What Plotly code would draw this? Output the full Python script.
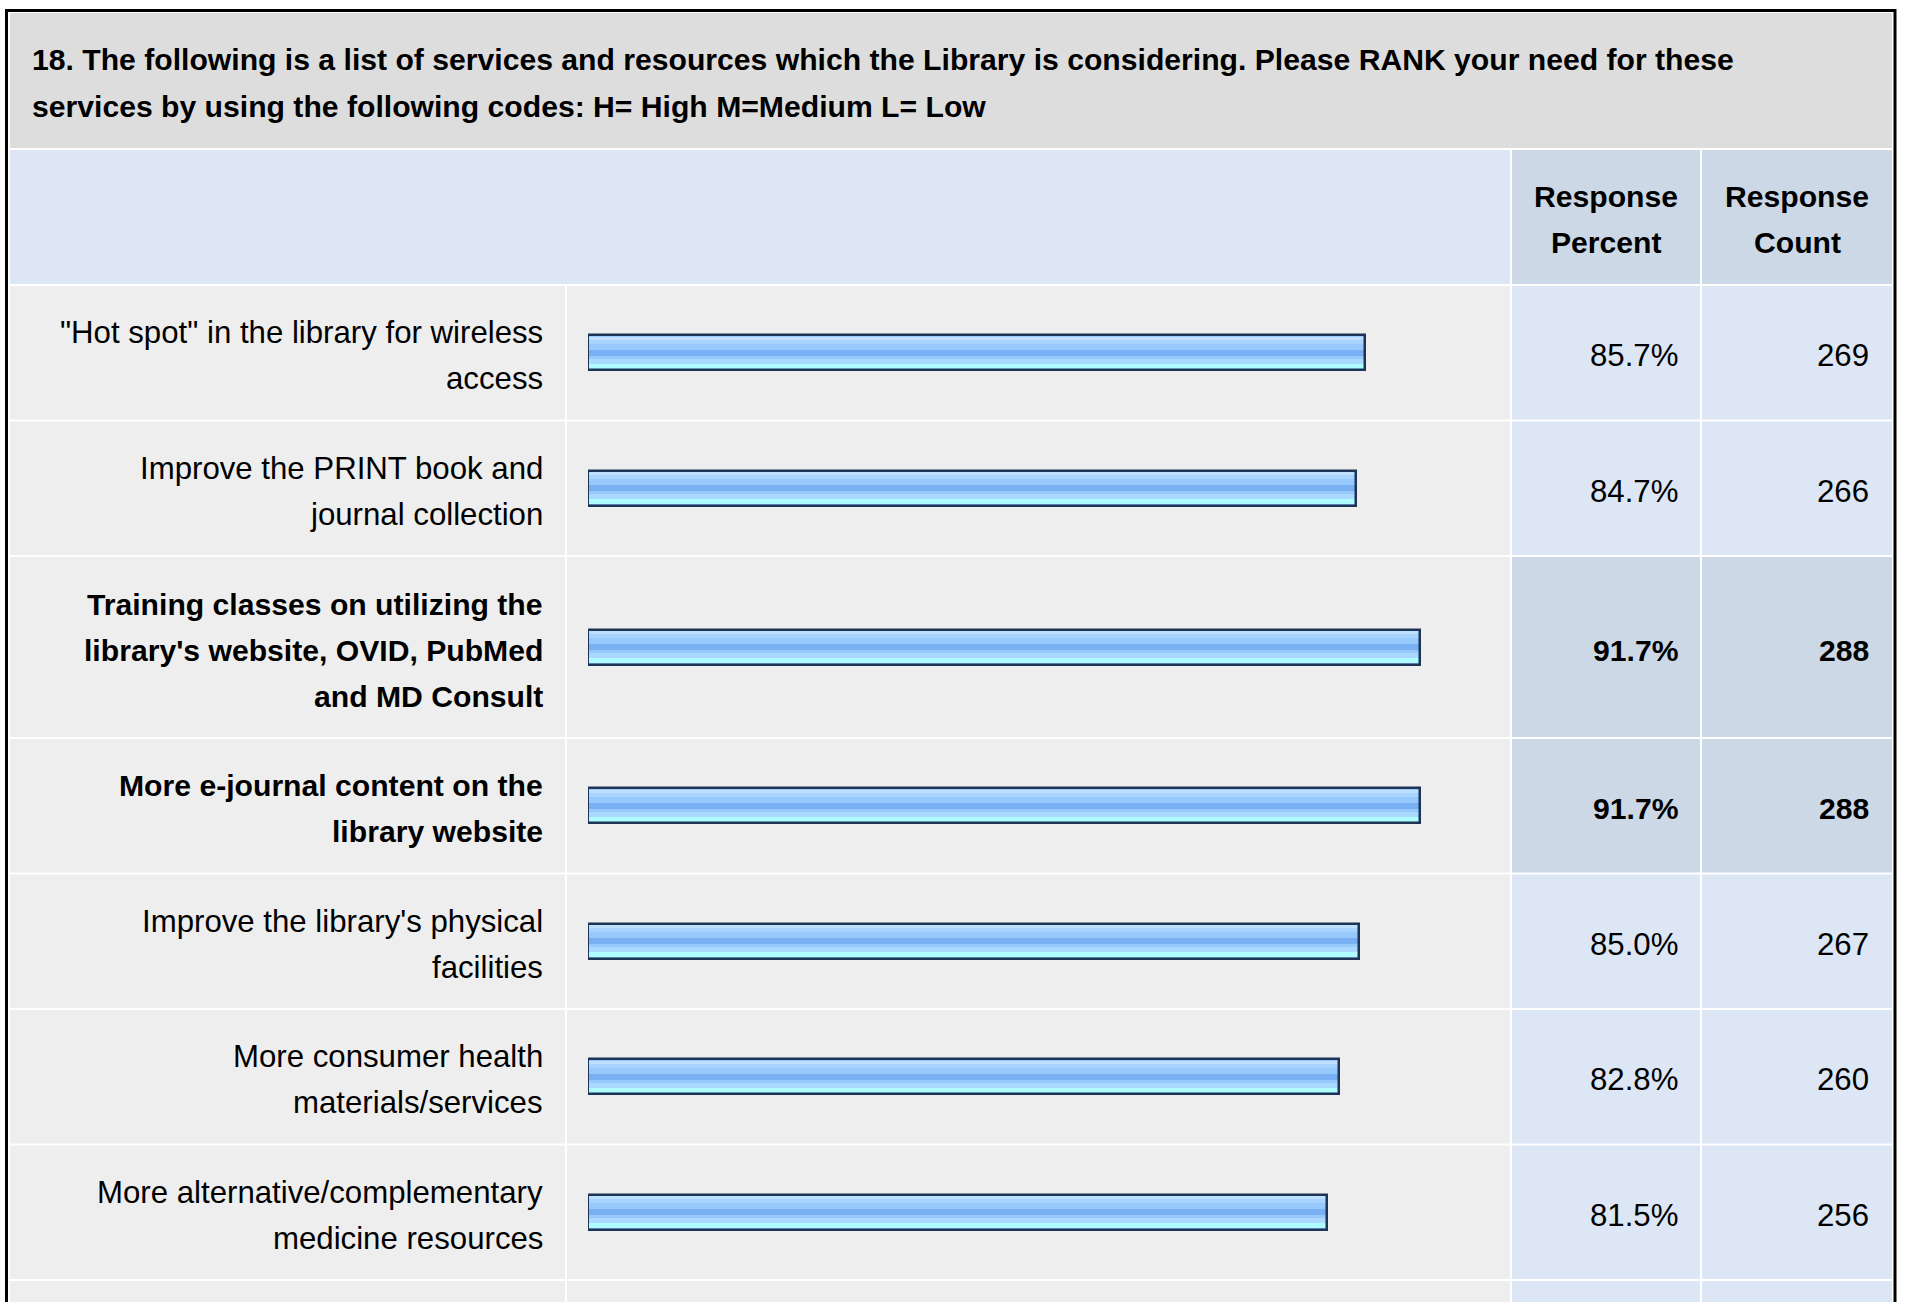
import plotly.graph_objects as go

# ---- survey content -------------------------------------------------------
title_lines = [
    "18. The following is a list of services and resources which the Library is considering. Please RANK your need for these",
    "services by using the following codes: H= High M=Medium L= Low",
]
header_percent = ["Response", "Percent"]
header_count = ["Response", "Count"]

label_lines = [
    ['"Hot spot" in the library for wireless', "access"],
    ["Improve the PRINT book and", "journal collection"],
    ["Training classes on utilizing the", "library's website, OVID, PubMed", "and MD Consult"],
    ["More e-journal content on the", "library website"],
    ["Improve the library's physical", "facilities"],
    ["More consumer health", "materials/services"],
    ["More alternative/complementary", "medicine resources"],
]
response_percent = [85.7, 84.7, 91.7, 91.7, 85.0, 82.8, 81.5]
response_count = [269, 266, 288, 288, 267, 260, 256]

# ---- page geometry (pixels) ----------------------------------------------
W, H = 1907, 1302
X_L, X_R = 10, 1892
LABEL_END = 565
BAR_COL = (567, 1510)
PCT_COL = (1512, 1700)
CNT_COL = (1702, 1892)
BAR_ZERO, BAR_FULL = 588, 1495          # pixel span of 0..100 %
TITLE_Y = (13, 148)
HEAD_Y = (150, 284)
GAP = 2
LINE_H = 46
BAR_H = 36

FONT = "Liberation Sans, Arial, sans-serif"
REG_SIZE = 31.2
BOLD_SIZE = 30.15

TITLE_BG = "#DDDDDD"
HEAD_BG = "#DCE6F4"
HEAD_DARK = "#CCD8E6"
ROW_BG = "#EEEEEE"
VAL_BG = "#DCE6F4"
VAL_BG_HI = "#CCD8E6"
TEXT = "#000000"
BAR_EDGE = "#1C3557"

# horizontal stripes of the glossy bar, measured from the bar's top edge
stripes = [
    (0, 36, "#98C9FC"),
    (2, 5, "#BEDFFE"),
    (5, 9, "#A7D3FE"),
    (15, 21, "#79AFF3"),
    (24, 29, "#AAD8FE"),
    (29, 34, "#AEFCFE"),
]

# ---- row layout -----------------------------------------------------------
row_tops, row_bottoms = [], []
y = HEAD_Y[1] + GAP
for lines in label_lines:
    h = 133.5 + max(0, len(lines) - 2) * 46.5
    row_tops.append(y)
    row_bottoms.append(y + h)
    y = y + h + GAP
next_row_top = y
row_centers = [(t + b) / 2 for t, b in zip(row_tops, row_bottoms)]
top_value = max(response_percent)
highlight = [p == top_value for p in response_percent]

shapes = []


def cell(x0, x1, y0, y1, color):
    shapes.append(dict(type="rect", xref="x", yref="y", x0=x0, x1=x1, y0=y0, y1=y1,
                       fillcolor=color, line=dict(width=0), layer="below"))


cell(X_L, X_R, TITLE_Y[0], TITLE_Y[1], TITLE_BG)
cell(X_L, BAR_COL[1], HEAD_Y[0], HEAD_Y[1], HEAD_BG)
cell(PCT_COL[0], PCT_COL[1], HEAD_Y[0], HEAD_Y[1], HEAD_DARK)
cell(CNT_COL[0], CNT_COL[1], HEAD_Y[0], HEAD_Y[1], HEAD_DARK)
for t, b, hi in zip(row_tops, row_bottoms, highlight):
    cell(X_L, LABEL_END, t, b, ROW_BG)
    cell(BAR_COL[0], BAR_COL[1], t, b, ROW_BG)
    cell(PCT_COL[0], PCT_COL[1], t, b, VAL_BG_HI if hi else VAL_BG)
    cell(CNT_COL[0], CNT_COL[1], t, b, VAL_BG_HI if hi else VAL_BG)
# the next row continues below the visible area
cell(X_L, LABEL_END, next_row_top, next_row_top + 140, ROW_BG)
cell(BAR_COL[0], BAR_COL[1], next_row_top, next_row_top + 140, ROW_BG)
cell(PCT_COL[0], PCT_COL[1], next_row_top, next_row_top + 140, VAL_BG)
cell(CNT_COL[0], CNT_COL[1], next_row_top, next_row_top + 140, VAL_BG)
# outer frame
shapes.append(dict(type="rect", xref="x", yref="y", x0=6.5, x1=1895, y0=10.5, y1=1420,
                   line=dict(color="#000000", width=3), fillcolor="rgba(0,0,0,0)", layer="above"))

annotations = []


def text(x, y, s, anchor, bold=False):
    annotations.append(dict(
        x=x, y=y, xref="x", yref="y", text=f"<b>{s}</b>" if bold else s,
        showarrow=False, xanchor=anchor, yanchor="middle",
        font=dict(family=FONT, size=BOLD_SIZE if bold else REG_SIZE, color=TEXT)))


def line_ys(center, n):
    return [center + (i - (n - 1) / 2) * LINE_H for i in range(n)]


for s, yy in zip(title_lines, [59, 106]):
    text(30, yy, s, "left", bold=True)

head_center = (HEAD_Y[0] + HEAD_Y[1]) / 2
for col, words in ((PCT_COL, header_percent), (CNT_COL, header_count)):
    for s, yy in zip(words, line_ys(head_center + 2, len(words))):
        text((col[0] + col[1]) / 2, yy, s, "center", bold=True)

for lines, c, p, n, hi in zip(label_lines, row_centers, response_percent, response_count, highlight):
    for s, yy in zip(lines, line_ys(c + 3, len(lines))):
        text(LABEL_END - 20, yy, s, "right", bold=hi)
    text(PCT_COL[1] - 20, c + 3, f"{p:.1f}%", "right", bold=hi)
    text(CNT_COL[1] - 21, c + 3, f"{n}", "right", bold=hi)

fig = go.Figure()

# glossy bars: stacked stripes, then the dark outline on top
for start, end, color in stripes:
    fig.add_trace(go.Bar(
        x=response_percent, y=row_centers, orientation="h",
        width=[end - start] * len(row_centers), offset=-BAR_H / 2 + start,
        marker=dict(color=color, line=dict(width=0)),
        xaxis="x2", yaxis="y", hoverinfo="skip", showlegend=False))
fig.add_trace(go.Bar(
    x=response_percent, y=row_centers, orientation="h",
    width=[BAR_H - 1] * len(row_centers), offset=-BAR_H / 2 + 0.5,
    marker=dict(color="rgba(0,0,0,0)", line=dict(width=2.5, color=BAR_EDGE)),
    xaxis="x2", yaxis="y", hoverinfo="skip", showlegend=False))

fig.update_layout(
    width=W, height=H, margin=dict(l=0, r=0, t=0, b=0),
    paper_bgcolor="#FFFFFF", plot_bgcolor="rgba(0,0,0,0)",
    barmode="overlay", bargap=0,
    xaxis=dict(range=[0, W], visible=False, fixedrange=True),
    xaxis2=dict(range=[0, 100], domain=[BAR_ZERO / W, BAR_FULL / W], anchor="y",
                visible=False, fixedrange=True),
    yaxis=dict(range=[H, 0], visible=False, fixedrange=True),
    shapes=shapes, annotations=annotations, showlegend=False,
)

fig.write_html("out.html")
